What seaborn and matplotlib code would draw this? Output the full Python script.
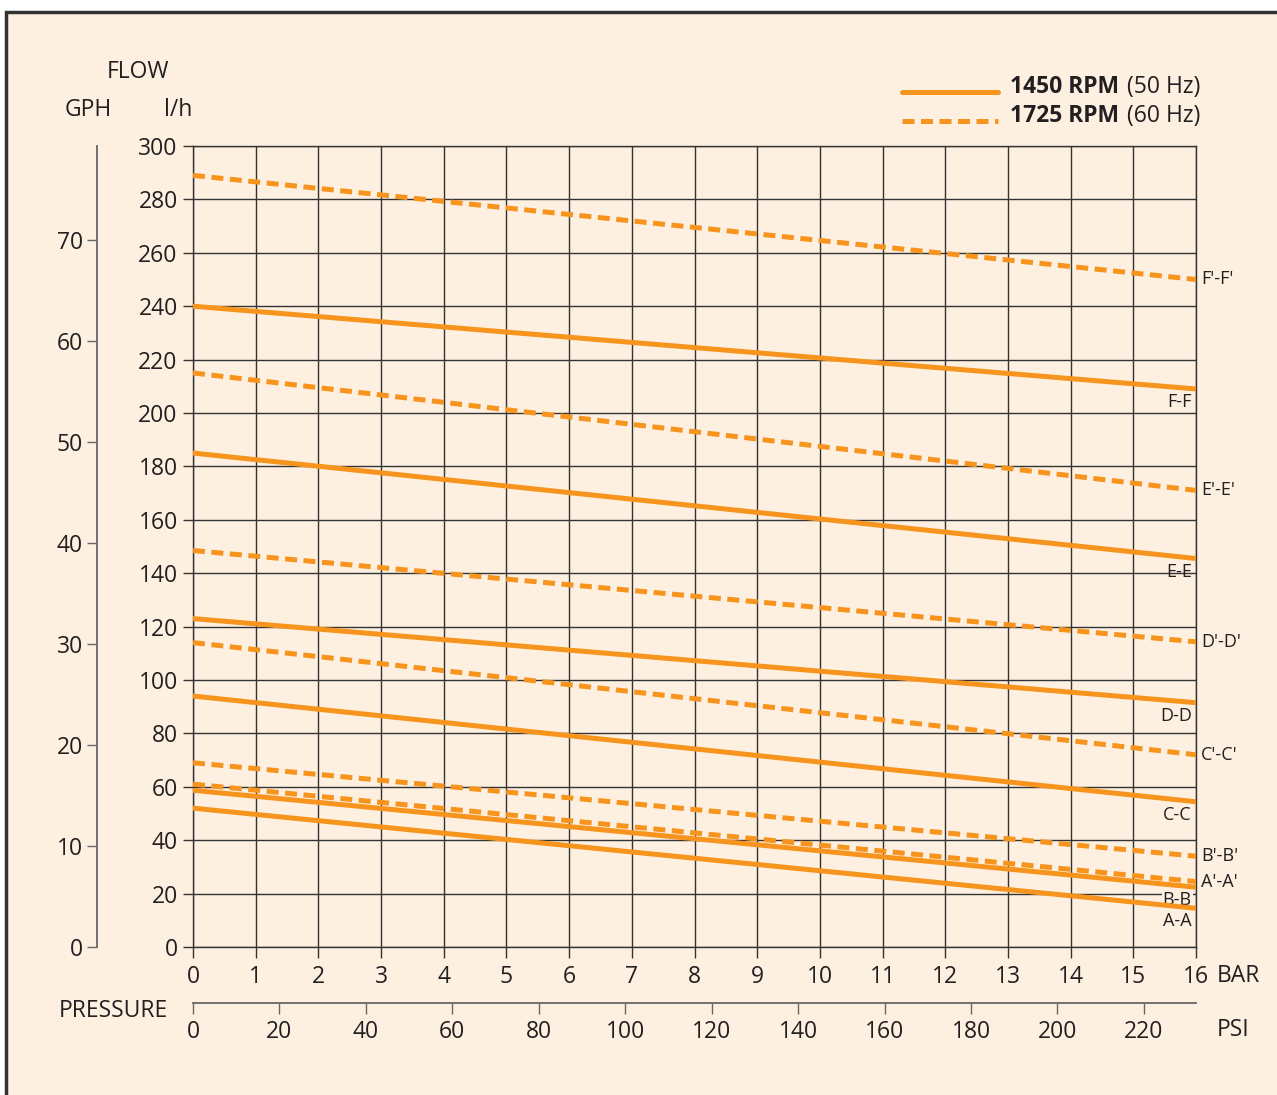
import matplotlib
matplotlib.use("Agg")
import matplotlib.pyplot as plt
from matplotlib.lines import Line2D
from matplotlib.patches import Rectangle
import seaborn as sns
import pandas as pd

# ---- data (flow in l/h at 0 bar and 16 bar) ----
curve_names = ["F'-F'", "F-F", "E'-E'", "E-E", "D'-D'", "D-D",
               "C'-C'", "C-C", "B'-B'", "A'-A'", "B-B", "A-A"]
speed = ["1725", "1450", "1725", "1450", "1725", "1450",
         "1725", "1450", "1725", "1725", "1450", "1450"]
flow_at_0 = [289, 240, 215, 185, 148.5, 123, 114, 94, 69, 61, 58.7, 52]
flow_at_16 = [250, 209, 171, 145.5, 114.3, 91.5, 72, 54.4, 34, 24.5, 22.4, 14.5]
pressure_bar = [0, 16]

bar_ticks = list(range(0, 17))
lh_ticks = list(range(0, 301, 20))
gph_ticks = list(range(0, 71, 10))
psi_ticks = list(range(0, 221, 20))
LH_PER_GPH = 3.785
PSI_PER_BAR = 14.5038

legend_bold = ["1450 RPM", "1725 RPM"]
legend_norm = ["(50 Hz)", "(60 Hz)"]

rows = []
for n, s, a, b in zip(curve_names, speed, flow_at_0, flow_at_16):
    for p, f in zip(pressure_bar, [a, b]):
        rows.append({"curve": n, "speed": s, "bar": p, "flow": f})
df = pd.DataFrame(rows)

# ---- style ----
sns.set_style("white")
plt.rcParams["font.family"] = ["Open Sans", "DejaVu Sans"]
ORANGE = "#F7941D"
BG = "#FDF0E1"
DARK = "#231F20"
GRID = "#333333"
W, H = 1277, 1095
FS = 16.5

fig = plt.figure(figsize=(W / 100, H / 100), dpi=100)
fig.patch.set_facecolor("white")
fig.add_artist(Rectangle((6 / W, -0.05), 1.2, (H - 12) / H + 0.05,
                         transform=fig.transFigure, facecolor=BG,
                         edgecolor="#333333", lw=2.5, zorder=0))

def fx(px):
    return px / W

def fy(py):
    return 1 - py / H

# main axes
ax = fig.add_axes([fx(193), fy(947), fx(1196) - fx(193), fy(146) - fy(947)])
ax.set_facecolor("none")
sns.lineplot(data=df, x="bar", y="flow", units="curve", style="speed",
             estimator=None, color=ORANGE, lw=3.6, legend=False,
             dashes={"1450": "", "1725": (2.4, 1.3)}, ax=ax, zorder=3)
ax.set_xlim(0, 16)
ax.set_ylim(0, 300)
ax.set_xticks(bar_ticks)
ax.set_yticks(lh_ticks)
ax.set_xticklabels([str(t) for t in bar_ticks])
ax.set_yticklabels([str(t) for t in lh_ticks])
ax.set_xlabel("")
ax.set_ylabel("")
ax.grid(True, color=GRID, lw=1)
ax.set_axisbelow(True)
for sp in ax.spines.values():
    sp.set_color(GRID)
    sp.set_linewidth(1)
ax.tick_params(axis="y", direction="out", length=7, width=1, color=GRID,
               labelsize=FS, labelcolor=DARK, pad=4, left=True)
ax.tick_params(axis="x", direction="out", length=8, width=1, color=GRID,
               labelsize=FS, labelcolor=DARK, pad=5, bottom=True)

# curve labels
for n, s, b in zip(curve_names, speed, flow_at_16):
    if s == "1725":
        ax.annotate(n, xy=(16, b), xytext=(3.5, 0), textcoords="offset points",
                    ha="left", va="center", fontsize=13, color=DARK,
                    annotation_clip=False)
    else:
        kw = {}
        if n == "B-B":
            kw["bbox"] = dict(facecolor=BG, edgecolor="none", pad=0.5)
        ax.annotate(n, xy=(16, b), xytext=(-3, -9.5), textcoords="offset points",
                    ha="right", va="center", fontsize=13, color=DARK,
                    annotation_clip=False, zorder=2, **kw)

# GPH axis
ax2 = fig.add_axes([fx(97), fy(947), 0.0005, fy(146) - fy(947)])
ax2.set_facecolor("none")
ax2.set_ylim(0, 300 / LH_PER_GPH)
ax2.set_yticks(gph_ticks)
ax2.set_yticklabels([str(t) for t in gph_ticks])
ax2.set_xticks([])
for k, sp in ax2.spines.items():
    sp.set_visible(k == "left")
ax2.spines["left"].set_color("#666666")
ax2.spines["left"].set_linewidth(1.3)
ax2.tick_params(axis="y", direction="out", length=7, width=1, color="#666666",
                labelsize=FS, labelcolor=DARK, pad=3, left=True)

# PSI axis
ax3 = fig.add_axes([fx(193), fy(1003), fx(1196) - fx(193), 0.0005])
ax3.set_facecolor("none")
ax3.set_xlim(0, 16 * PSI_PER_BAR)
ax3.set_xticks(psi_ticks)
ax3.set_xticklabels([str(t) for t in psi_ticks])
ax3.set_yticks([])
for k, sp in ax3.spines.items():
    sp.set_visible(k == "bottom")
ax3.spines["bottom"].set_color("#666666")
ax3.spines["bottom"].set_linewidth(1.3)
ax3.tick_params(axis="x", direction="out", length=8, width=1, color="#666666",
                labelsize=FS, labelcolor=DARK, pad=4, bottom=True)

# axis titles
fig.text(fx(138), fy(72), "FLOW", ha="center", va="center", fontsize=FS, color=DARK)
fig.text(fx(88), fy(110), "GPH", ha="center", va="center", fontsize=FS, color=DARK)
fig.text(fx(178), fy(110), "l/h", ha="center", va="center", fontsize=FS, color=DARK)
fig.text(fx(113), fy(1011), "PRESSURE", ha="center", va="center", fontsize=FS, color=DARK)
fig.text(fx(1217), fy(976), "BAR", ha="left", va="center", fontsize=FS, color=DARK)
fig.text(fx(1217), fy(1030), "PSI", ha="left", va="center", fontsize=FS, color=DARK)

# legend
leg_y = [92, 121]
txt_y = [87, 116]
styles = ["-", (0, (2.4, 1.3))]
for yy, ty, st, b, nrm in zip(leg_y, txt_y, styles, legend_bold, legend_norm):
    fig.add_artist(Line2D([fx(902), fx(998)], [fy(yy), fy(yy)], color=ORANGE,
                          lw=3.6, ls=st, transform=fig.transFigure))
    t = fig.text(fx(1010), fy(ty), b, ha="left", va="center", fontsize=FS,
                 fontweight="bold", color=DARK)
    ax.annotate(nrm, xy=(1, 0), xycoords=t, xytext=(6, 0),
                textcoords="offset points", ha="left", va="bottom",
                fontsize=FS, color=DARK, annotation_clip=False)

fig.savefig("out.png", dpi=100, facecolor=fig.get_facecolor())
